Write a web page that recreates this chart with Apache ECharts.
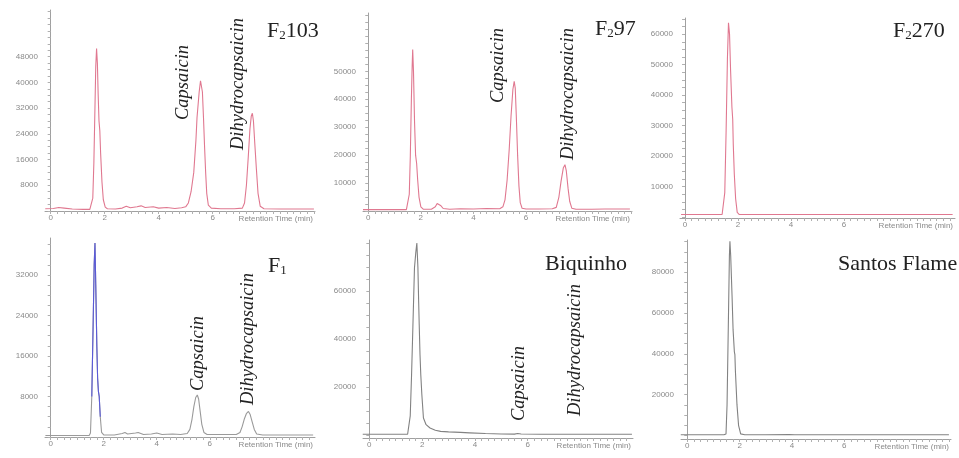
<!DOCTYPE html>
<html><head><meta charset="utf-8">
<script src="https://cdn.jsdelivr.net/npm/echarts@6/dist/echarts.min.js"></script>
<style>html,body{margin:0;padding:0;background:#fff}#c{width:959px;height:458px}</style>
</head><body><div id="c"></div>
<script>
// ---- Data: [retention time (min), signal] ----
const f2103 = [[-0.2,700],[0.1,800],[0.3,1100],[0.5,900],[0.8,600],[1.2,500],[1.45,500],[1.52,900],[1.56,4000],[1.6,15000],[1.64,32000],[1.67,45000],[1.7,50500],[1.73,46000],[1.76,36000],[1.79,28000],[1.82,25000],[1.85,18000],[1.9,9000],[1.95,3500],[2.02,1200],[2.1,700],[2.4,600],[2.65,900],[2.8,1500],[2.95,1000],[3.2,1300],[3.35,1600],[3.5,1100],[3.8,1300],[4.0,900],[4.3,1100],[4.6,800],[4.85,1000],[5.0,1300],[5.1,2500],[5.2,6000],[5.3,12000],[5.38,22000],[5.42,29000],[5.5,37000],[5.55,40500],[5.58,40700],[5.62,37000],[5.66,29000],[5.7,20000],[5.74,12000],[5.78,5500],[5.84,1800],[5.95,900],[6.3,700],[6.8,700],[7.1,900],[7.18,2500],[7.25,8000],[7.32,17000],[7.38,25500],[7.43,29500],[7.47,30400],[7.51,28000],[7.56,21000],[7.62,13000],[7.68,5500],[7.76,1500],[7.9,700],[8.5,600],[9.2,600],[9.75,600]];
const f297 = [[-0.2,500],[0.5,500],[1.0,500],[1.45,500],[1.52,1000],[1.56,6000],[1.6,20000],[1.64,40000],[1.67,52000],[1.69,57800],[1.72,50000],[1.76,32000],[1.8,20000],[1.84,17000],[1.88,11000],[1.93,5000],[2.0,1500],[2.1,600],[2.4,600],[2.55,1500],[2.62,2700],[2.68,2900],[2.75,2000],[2.85,900],[3.1,600],[3.5,800],[4.0,700],[4.5,900],[5.0,800],[5.12,1500],[5.2,4000],[5.28,11000],[5.36,22000],[5.43,34000],[5.5,43500],[5.55,46400],[5.59,44000],[5.63,34000],[5.68,20000],[5.73,9000],[5.78,3000],[5.85,1000],[6.0,700],[6.5,700],[7.0,800],[7.15,1300],[7.25,5000],[7.33,10500],[7.42,15500],[7.48,16600],[7.53,14500],[7.6,8000],[7.66,3500],[7.74,1000],[7.9,600],[8.5,600],[9.0,700],[9.95,700]];
const f2270 = [[-0.15,800],[0.5,800],[1.0,800],[1.4,800],[1.45,900],[1.5,8000],[1.55,28000],[1.6,52000],[1.64,63700],[1.68,60000],[1.72,48000],[1.77,36000],[1.8,32000],[1.82,24000],[1.86,14000],[1.91,6000],[1.97,1500],[2.05,800],[3,800],[4,800],[5,800],[6,800],[7,800],[8,800],[9,800],[10.1,800]];
const f1 = [[-0.2,300],[0.5,300],[1.0,300],[1.45,300],[1.5,800],[1.55,8000],[1.6,22000],[1.64,34000],[1.67,38300],[1.7,30000],[1.74,18000],[1.77,11600],[1.8,9000],[1.83,8000],[1.87,4000],[1.92,900],[2.0,400],[2.4,400],[2.7,700],[2.8,900],[2.9,600],[3.2,800],[3.3,900],[3.5,500],[3.8,600],[4.0,800],[4.2,500],[4.6,600],[4.9,500],[5.15,700],[5.25,1500],[5.33,3500],[5.4,6000],[5.47,7800],[5.53,8300],[5.58,7500],[5.64,5000],[5.7,2500],[5.78,900],[5.9,500],[6.5,500],[7.0,500],[7.14,900],[7.22,2000],[7.3,3500],[7.38,4600],[7.46,5040],[7.52,4500],[7.6,3000],[7.68,1500],[7.77,600],[8,400],[9,400],[9.9,400]];
const biquinho = [[-0.25,300],[0.5,300],[1.0,300],[1.45,300],[1.52,700],[1.55,8000],[1.6,25000],[1.65,45000],[1.71,69600],[1.76,76000],[1.8,80000],[1.84,70000],[1.87,55000],[1.89,46000],[1.92,33400],[1.95,25000],[1.99,16800],[2.05,7100],[2.15,4300],[2.3,2900],[2.5,2000],[2.7,1500],[3.0,1300],[3.45,1100],[3.8,900],[4.4,600],[5.0,400],[5.5,350],[5.62,600],[5.68,800],[5.75,400],[6.5,300],[7.5,300],[8.5,300],[9.95,300]];
const santosFlame = [[-0.25,400],[0.5,400],[1.0,400],[1.4,400],[1.48,800],[1.52,15000],[1.57,55000],[1.61,88000],[1.63,95200],[1.66,88000],[1.71,69000],[1.75,52000],[1.8,41000],[1.82,39600],[1.84,31500],[1.9,15000],[1.96,5000],[2.04,800],[2.2,400],[3,400],[3.9,500],[4.1,400],[5,400],[6,400],[7,400],[8,400],[9,400],[10,400]];

// ---- Tick labels ----
const xTickLabels = [0, 2, 4, 6];
const yLabelsF2103 = [8000, 16000, 24000, 32000, 40000, 48000];
const yLabelsF297 = [10000, 20000, 30000, 40000, 50000];
const yLabelsF2270 = [10000, 20000, 30000, 40000, 50000, 60000];
const yLabelsF1 = [8000, 16000, 24000, 32000];
const yLabelsBiquinho = [20000, 40000, 60000];
const yLabelsSantos = [20000, 40000, 60000, 80000];

function steps(a, b, s) { const r = []; for (let v = a; v <= b + 1e-9; v += s) r.push(+v.toFixed(4)); return r; }

const PINK = '#e07890', GREY = '#9a9a9a', BLUE = '#5a5ad8', DARK = '#828282';
const panels = [
  { grid:{left:45, top:10, width:270, height:201}, x:[-0.21,9.79], y:[0,62500], yl:yLabelsF2103, ys:2000, data:f2103, color:PINK },
  { grid:{left:363, top:13, width:269, height:198}, x:[-0.2,10.03], y:[0,70900], yl:yLabelsF297, ys:2500, data:f297, color:PINK },
  { grid:{left:680, top:18, width:275, height:200}, x:[-0.19,10.19], y:[-330,65300], yl:yLabelsF2270, ys:2500, data:f2270, color:PINK },
  { grid:{left:45, top:238, width:270, height:199}, x:[-0.215,9.97], y:[0,39300], yl:yLabelsF1, ys:2000, data:f1, color:GREY, hi:BLUE },
  { grid:{left:363, top:240, width:270, height:198}, x:[-0.24,9.99], y:[-1250,81250], yl:yLabelsBiquinho, ys:5000, data:biquinho, color:DARK },
  { grid:{left:681, top:240, width:270, height:199}, x:[-0.24,10.08], y:[-1700,95800], yl:yLabelsSantos, ys:5000, data:santosFlame, color:DARK }
];

const axisColor = '#a0a0a0', labelColor = '#8a8a8a';
const option = { animation:false, backgroundColor:'#fff', grid:[], xAxis:[], yAxis:[], series:[], graphic:[] };
panels.forEach((p, i) => {
  option.grid.push(Object.assign({}, p.grid, {containLabel:false}));
  option.xAxis.push({
    type:'value', gridIndex:i, min:p.x[0], max:p.x[1],
    axisLine:{show:true, onZero:false, lineStyle:{color:axisColor, width:1}},
    axisTick:{show:true, customValues:steps(0, Math.floor(p.x[1]*4)/4, 0.25), length:3, lineStyle:{color:'#b0b0b0'}},
    axisLabel:{customValues:xTickLabels, fontSize:8, color:labelColor, margin:3, fontFamily:'Liberation Sans'},
    splitLine:{show:false},
    name:'Retention Time (min)', nameLocation:'end', nameGap:-2,
    nameTextStyle:{align:'right', verticalAlign:'top', fontSize:8, color:labelColor, padding:[4,0,0,0], fontFamily:'Liberation Sans'}
  });
  option.yAxis.push({
    type:'value', gridIndex:i, min:p.y[0], max:p.y[1],
    axisLine:{show:true, lineStyle:{color:axisColor, width:1}},
    axisTick:{show:true, customValues:steps(Math.ceil(Math.max(p.y[0],0)/p.ys)*p.ys, p.y[1], p.ys), length:3, lineStyle:{color:'#b0b0b0'}},
    axisLabel:{customValues:p.yl, fontSize:8, color:labelColor, margin:7, fontFamily:'Liberation Sans', formatter: v => String(v)},
    splitLine:{show:false}
  });
  option.series.push({ type:'line', xAxisIndex:i, yAxisIndex:i, data:p.data, symbol:'none', lineStyle:{color:p.color, width:1.1}, z:2 });
  if (p.hi) {
    option.series.push({ type:'line', xAxisIndex:i, yAxisIndex:i, data:p.data.filter(d => d[0] >= 1.52 && d[0] <= 1.9), symbol:'none', lineStyle:{color:p.hi, width:1.1}, z:3 });
  }
});

const serif = '"Liberation Serif", "Times New Roman", serif';
function vlabel(text, x, y) {
  return { type:'text', x:x, y:y, rotation:Math.PI/2, z:10,
    style:{ text:text, fontFamily:serif, fontStyle:'italic', fontSize:18.5, fill:'#222', textAlign:'left', textVerticalAlign:'middle' } };
}
function title(main, sub, rest, x, y) {
  return { type:'text', x:x, y:y, z:10,
    style:{ text: sub ? '{a|' + main + '}{s|' + sub + '}{a|' + rest + '}' : '{a|' + main + '}',
      textAlign:'left', textVerticalAlign:'middle',
      rich:{ a:{fontFamily:serif, fontSize:22, fill:'#222', verticalAlign:'bottom', lineHeight:24},
             s:{fontFamily:serif, fontSize:13, fill:'#222', verticalAlign:'bottom', lineHeight:20} } } };
}
option.graphic = [
  vlabel('Capsaicin', 183, 120), vlabel('Dihydrocapsaicin', 238, 150),
  vlabel('Capsaicin', 498, 103), vlabel('Dihydrocapsaicin', 568, 160),
  vlabel('Capsaicin', 198, 391), vlabel('Dihydrocapsaicin', 248, 405),
  vlabel('Capsaicin', 519, 421), vlabel('Dihydrocapsaicin', 575, 416),
  title('F', '2', '103', 267, 30), title('F', '2', '97', 595, 28), title('F', '2', '270', 893, 30),
  title('F', '1', '', 268, 265), title('Biquinho', '', '', 545, 263), title('Santos Flame', '', '', 838, 263)
];

const chart = echarts.init(document.getElementById('c'), null, {renderer:'canvas'});
chart.setOption(option);
</script></body></html>
